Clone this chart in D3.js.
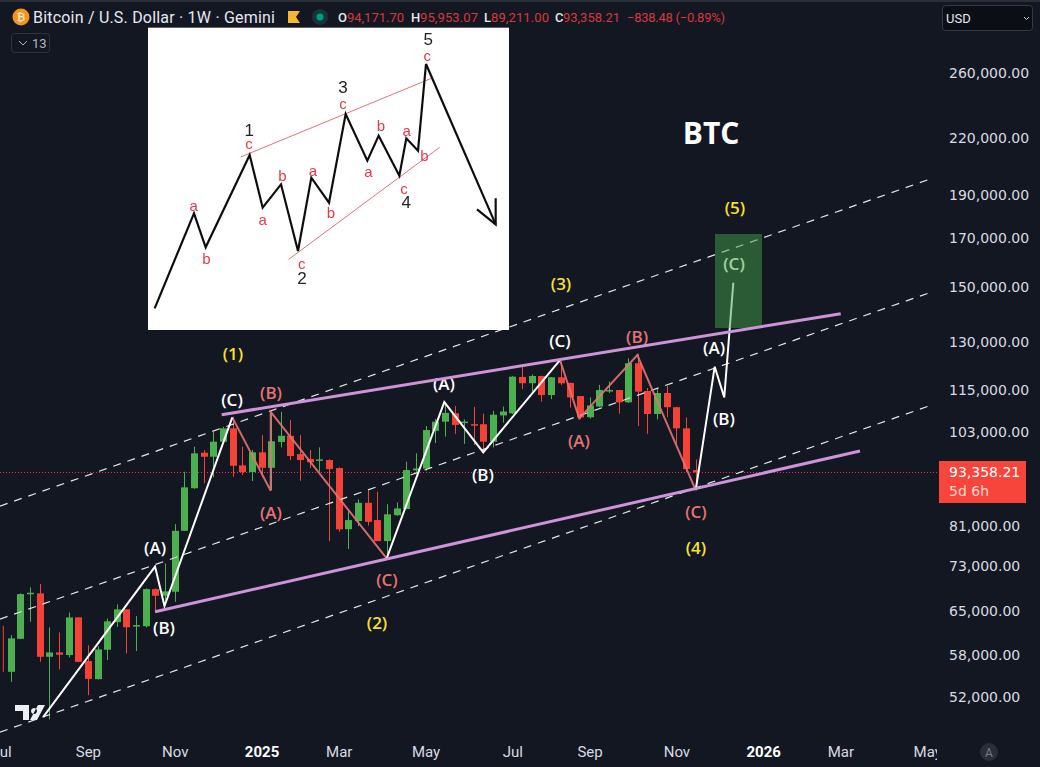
<!DOCTYPE html>
<html>
<head>
<meta charset="utf-8">
<script src="https://cdn.jsdelivr.net/npm/d3@7/dist/d3.min.js"></script>
<style>
  html, body { margin: 0; padding: 0; background: #131722; overflow: hidden; }
  svg { display: block; }
</style>
</head>
<body>
<svg id="chart"></svg>
<script>
// weekly bars, first one is the week of 2024-07-08
const opens = [
  55490, 60420, 67810, 67930, 57680, 58340, 57940, 63850, 57040, 54450,
  58740, 63080, 65190, 62410, 62410, 68690, 67520, 68220, 79830, 89100,
  97640, 96630, 100460, 103970, 94500, 92880, 97740, 93920, 100400, 102000,
  97300, 96060, 95740, 95810, 93850, 80170, 81850, 85810, 82070, 77740,
  83100, 84440, 93300, 93700, 103300, 105770, 108100, 105600, 105100, 105100,
  100460, 107500, 108100, 118700, 116800, 119000, 113300, 118600, 116900, 113000,
  107000, 110000, 114400, 114770, 111200, 123000, 114500, 107900, 113900, 109800,
  103970, 93370
];
const highs = [
  61000, 67930, 68990, 69590, 62220, 61420, 64660, 63900, 59430, 59290,
  63690, 66030, 65190, 64060, 68800, 68800, 73370, 81220, 92950, 99160,
  98320, 103060, 104400, 107150, 99160, 98320, 102180, 108500, 108500, 106230,
  102180, 98320, 99000, 96000, 94000, 84220, 86570, 88680, 88300, 85500,
  85900, 95400, 97490, 104600, 106500, 111200, 110100, 106400, 109900, 108000,
  108800, 110000, 119000, 122700, 119500, 119100, 118700, 123400, 117000, 113000,
  112600, 116300, 117300, 114800, 124600, 126000, 115400, 115000, 116000, 109900,
  106950, 95950
];
const lows = [
  54070, 60380, 63130, 56940, 49080, 55830, 57600, 56900, 52250, 54400,
  57190, 62310, 58180, 58530, 62220, 64780, 66480, 66480, 79830, 88950,
  90220, 91640, 100200, 91770, 92170, 90760, 91640, 88680, 99000, 95810,
  90820, 93850, 92970, 77740, 79640, 76150, 80810, 80900, 77740, 74400,
  83000, 84400, 92970, 93200, 100130, 101800, 102500, 99900, 99600, 97700,
  99000, 105500, 107900, 115050, 114300, 111400, 112100, 116300, 109700, 106450,
  106600, 109800, 113900, 108000, 111000, 104600, 102500, 106400, 107000, 99600,
  92880, 88680
];
const closes = [
  60490, 67810, 68040, 57680, 58340, 57990, 63850, 56940, 54490, 58790,
  63200, 65190, 62250, 62600, 68690, 67520, 68290, 79830, 89300, 97490,
  96630, 100460, 103970, 94410, 92880, 97740, 93920, 100560, 102000, 96810,
  95810, 95260, 95980, 93600, 80130, 82070, 85810, 81700, 77740, 83300,
  84580, 93370, 93760, 103520, 105770, 108200, 104900, 105800, 104900, 100460,
  107700, 108600, 118800, 116800, 119000, 113300, 118600, 116800, 112600, 106950,
  110300, 114770, 114770, 111200, 123000, 114300, 107900, 113900, 109800, 103970,
  93600, 92790
];
// bar cut off by the left edge, only its wick shows: [bar, high, low]
const edgeWick = [-0.77, 62485, 55490];

const priceTicks = [260000, 220000, 190000, 170000, 150000, 130000, 115000, 103000, 81000, 73000, 65000, 58000, 52000];
const timeBars = [-1, 8, 17, 26, 34, 43, 52, 60, 69, 78, 86, 95];
const timeLabels = ['Jul', 'Sep', 'Nov', '2025', 'Mar', 'May', 'Jul', 'Sep', 'Nov', '2026', 'Mar', 'May'];
const lastPriceLabel = '93,358.21';
const countdownLabel = '5d 6h';

// drawings as [bar, price]
const dashedChannels = [
  [[-1.11, 85090], [95.6, 198300]],
  [[-1.11, 63575], [95.6, 147980]],
  [[-1.11, 47500], [95.6, 110560]]
];
const purpleLines = [
  [[21.87, 107690], [86.03, 139740]],
  [[14.96, 64785], [88.03, 98066]]
];
const whiteWaves = [
  [[3.38, 49410], [14.96, 72790], [15.94, 65745], [22.97, 106970]],
  [[38.97, 74350], [44.94, 111270], [48.98, 97740], [56.93, 124010]],
  [[71, 88680], [72.97, 121890], [73.96, 112630], [74.9, 151370]]
];
const pinkWaves = [
  [[22.97, 106970], [26.95, 88520], [26.95, 108520], [38.97, 74350]],
  [[56.93, 124010], [58.93, 106690], [64.95, 125620], [71, 88680]]
];
const targetBox = [[73.0, 171650], [77.87, 134680]];

const whiteLabels = [
  ['(A)', 14.96, 76550], ['(B)', 15.89, 62280], ['(C)', 22.94, 112140],
  ['(A)', 44.91, 116860], ['(B)', 48.95, 92410], ['(C)', 56.93, 130580],
  ['(A)', 72.9, 128240], ['(B)', 73.93, 106770], ['(C)', 74.97, 159270]
];
const pinkLabels = [
  ['(B)', 26.98, 114180], ['(A)', 26.98, 83790], ['(C)', 39.0, 70490],
  ['(A)', 58.9, 100890], ['(B)', 64.92, 131930], ['(C)', 71.03, 84000]
];
const yellowLabels = [
  ['(1)', 23.04, 126270], ['(2)', 37.97, 63085], ['(3)', 57.04, 151255],
  ['(4)', 71.03, 76550], ['(5)', 75.07, 184020]
];

// pasted Elliott wave picture, in its own pixel units
const insetWave = [[20, 850], [138, 565], [173, 667], [305, 390], [344, 548], [399, 478], [450, 678], [490, 458], [543, 533], [593, 267], [658, 407], [692, 332], [754, 452], [775, 340], [810, 377], [834, 117], [1043, 598]];
const insetArrow = [[987, 553], [1043, 598], [1043, 520]];
const insetChannels = [[[278, 396], [850, 160]], [[422, 703], [875, 367]]];
const insetNumbers = [['1', 304, 315], ['2', 462, 760], ['3', 585, 187], ['4', 775, 532], ['5', 841, 42]];
const insetLetters = [['c', 303, 355], ['a', 137, 540], ['b', 175, 700], ['a', 344, 583], ['b', 403, 450], ['a', 495, 436], ['b', 549, 562], ['c', 461, 716], ['c', 585, 235], ['a', 661, 438], ['b', 699, 300], ['a', 776, 315], ['b', 829, 392], ['c', 768, 490], ['c', 838, 90]];

const legendValues = [
  ['O', '94,171.70', 338, 347, 57], ['H', '95,953.07', 411, 420, 58],
  ['L', '89,211.00', 484, 491, 58], ['C', '93,358.21', 555, 563, 57]
];

const width = 1040;
const height = 767;
const plotRight = 937;
const lastClose = closes[closes.length - 1];

const UP = '#4caf50';
const DOWN = '#f44336';
const UI_FONT = 'Roboto, sans-serif';

const svg = d3.select('#chart').attr('width', width).attr('height', height);
svg.append('rect').attr('width', width).attr('height', height).attr('fill', '#131722');
svg.append('rect').attr('width', width).attr('height', 2).attr('fill', '#2a2e39');

svg.append('clipPath').attr('id', 'plot-clip')
  .append('rect').attr('width', plotRight).attr('height', height);

const defs = svg.append('defs');
defs.append('filter').attr('id', 'soft')
  .append('feGaussianBlur').attr('stdDeviation', 0.35);

const x = d3.scaleLinear().domain([0, 71]).range([10.7, 695.7]);
const y = d3.scaleLog().domain([260000, 52000]).range([73, 697]);
const linePath = d3.line().x(d => x(d[0])).y(d => y(d[1]));

const plot = svg.append('g').attr('clip-path', 'url(#plot-clip)');

// Last price line
plot.append('line')
  .attr('x1', 0).attr('x2', plotRight)
  .attr('y1', y(lastClose)).attr('y2', y(lastClose))
  .attr('stroke', '#f23645').attr('stroke-dasharray', '1 2');

// Candles
plot.append('line')
  .attr('x1', x(edgeWick[0])).attr('x2', x(edgeWick[0]))
  .attr('y1', y(edgeWick[1])).attr('y2', y(edgeWick[2]))
  .attr('stroke', DOWN);

const candles = plot.selectAll('.candle')
  .data(opens.map((o, i) => ({ i, o, h: highs[i], l: lows[i], c: closes[i] })))
  .enter().append('g').attr('class', 'candle');

candles.append('line')
  .attr('x1', d => Math.round(x(d.i)) + 0.5).attr('x2', d => Math.round(x(d.i)) + 0.5)
  .attr('y1', d => y(d.h)).attr('y2', d => y(d.l))
  .attr('stroke', d => d.c >= d.o ? UP : DOWN);

candles.append('rect')
  .attr('x', d => Math.round(x(d.i)) - 3)
  .attr('width', 7)
  .attr('y', d => y(Math.max(d.o, d.c)))
  .attr('height', d => Math.max(1.5, Math.abs(y(d.o) - y(d.c))))
  .attr('fill', d => d.c >= d.o ? UP : DOWN);

// Channels and waves
plot.selectAll('.dashed').data(dashedChannels).enter().append('path')
  .attr('class', 'dashed').attr('d', linePath).attr('fill', 'none')
  .attr('stroke', '#e6e6e6').attr('stroke-width', 1.2).attr('stroke-dasharray', '8 7');

plot.selectAll('.pink-wave').data(pinkWaves).enter().append('path')
  .attr('class', 'pink-wave').attr('d', linePath).attr('fill', 'none')
  .attr('stroke', '#e57373').attr('stroke-opacity', 0.9).attr('stroke-width', 2);

plot.selectAll('.white-wave').data(whiteWaves).enter().append('path')
  .attr('class', 'white-wave').attr('d', linePath).attr('fill', 'none')
  .attr('stroke', '#ffffff').attr('stroke-width', 2);

function waveLabels(data, color) {
  plot.selectAll(null).data(data).enter().append('text')
    .attr('x', d => x(d[1])).attr('y', d => y(d[2]))
    .attr('text-anchor', 'middle').attr('dominant-baseline', 'central')
    .attr('font-family', '"Open Sans", sans-serif').attr('font-weight', 600).attr('font-size', 17)
    .attr('fill', color).text(d => d[0]);
}
waveLabels(whiteLabels, '#ffffff');
waveLabels(pinkLabels, '#e57373');
waveLabels(yellowLabels, '#f5e12f');

// Target box sits over the wave and dims it
plot.append('rect')
  .attr('x', x(targetBox[0][0])).attr('y', y(targetBox[0][1]))
  .attr('width', x(targetBox[1][0]) - x(targetBox[0][0]))
  .attr('height', y(targetBox[1][1]) - y(targetBox[0][1]))
  .attr('fill', '#43a047').attr('fill-opacity', 0.5);

plot.selectAll('.purple').data(purpleLines).enter().append('path')
  .attr('class', 'purple').attr('d', linePath).attr('fill', 'none')
  .attr('stroke', '#ce93d8').attr('stroke-width', 3);

plot.append('text')
  .attr('x', x(72.6)).attr('y', y(223290))
  .attr('text-anchor', 'middle').attr('dominant-baseline', 'central')
  .attr('font-family', '"Open Sans", sans-serif').attr('font-weight', 700).attr('font-size', 30)
  .attr('fill', '#ffffff').text('BTC');

// TradingView logo
svg.append('path')
  .attr('d', 'M15 705h14v15h-6v-9h-8z M34 708a3 3 0 1 0 .01 0 M38 705h7l-8 15h-7z')
  .attr('fill', '#eceff3');

// Inset picture
const insetX = d3.scaleLinear().domain([0, 1086]).range([148, 510]);
const insetY = d3.scaleLinear().domain([0, 915]).range([25, 330]);
const insetPath = d3.line().x(d => insetX(d[0])).y(d => insetY(d[1]));

svg.append('rect')
  .attr('x', insetX(0)).attr('y', insetY(8))
  .attr('width', insetX(1083) - insetX(0)).attr('height', insetY(915) - insetY(8))
  .attr('fill', '#ffffff');

const inset = svg.append('g').attr('filter', 'url(#soft)');

inset.selectAll('.inset-channel').data(insetChannels).enter().append('path')
  .attr('class', 'inset-channel').attr('d', insetPath).attr('fill', 'none')
  .attr('stroke', '#e8707a').attr('stroke-width', 1);

[insetWave, insetArrow].forEach(points => {
  inset.append('path').attr('d', insetPath(points)).attr('fill', 'none')
    .attr('stroke', '#111111').attr('stroke-width', 2.2);
});

inset.selectAll('.inset-number').data(insetNumbers).enter().append('text')
  .attr('class', 'inset-number')
  .attr('x', d => insetX(d[1])).attr('y', d => insetY(d[2]))
  .attr('text-anchor', 'middle').attr('dominant-baseline', 'central')
  .attr('font-family', '"Liberation Sans", sans-serif').attr('font-size', 17)
  .attr('fill', '#222222').text(d => d[0]);

inset.selectAll('.inset-letter').data(insetLetters).enter().append('text')
  .attr('class', 'inset-letter')
  .attr('x', d => insetX(d[1])).attr('y', d => insetY(d[2]))
  .attr('text-anchor', 'middle').attr('dominant-baseline', 'central')
  .attr('font-family', '"Liberation Sans", sans-serif').attr('font-size', 15)
  .attr('fill', '#e8394a').text(d => d[0]);

// Price axis
const priceAxis = svg.append('g')
  .attr('transform', 'translate(949,0.5)')
  .call(d3.axisRight(y).tickValues(priceTicks).tickFormat(d3.format(',.2f')).tickSize(0).tickPadding(0));
priceAxis.select('.domain').remove();
priceAxis.selectAll('text')
  .attr('fill', '#d9dbe2').attr('font-family', '"DejaVu Sans", sans-serif').attr('font-size', 14);

// Last price tag
svg.append('rect').attr('x', 939).attr('y', 461).attr('width', 87).attr('height', 42).attr('fill', '#f7453b');
svg.append('text').attr('x', 949).attr('y', 477)
  .attr('font-family', '"DejaVu Sans", sans-serif').attr('font-size', 14)
  .attr('fill', '#ffffff').text(lastPriceLabel);
svg.append('text').attr('x', 949).attr('y', 496)
  .attr('font-family', '"DejaVu Sans", sans-serif').attr('font-size', 14)
  .attr('fill', '#fcd4d0').text(countdownLabel);

// Time axis
const timeAxis = svg.append('g')
  .attr('clip-path', 'url(#plot-clip)')
  .append('g').attr('transform', 'translate(0,746)')
  .call(d3.axisBottom(x).tickValues(timeBars).tickFormat((d, i) => timeLabels[i]).tickSize(0).tickPadding(0));
timeAxis.select('.domain').remove();
timeAxis.selectAll('text')
  .attr('font-family', UI_FONT).attr('font-size', 15)
  .attr('font-weight', (d, i) => /^\d+$/.test(timeLabels[i]) ? 700 : 400)
  .attr('fill', (d, i) => /^\d+$/.test(timeLabels[i]) ? '#ffffff' : '#d9dbe2');

svg.append('circle').attr('cx', 989).attr('cy', 752).attr('r', 9).attr('fill', '#2a2e39');
svg.append('text').attr('x', 989).attr('y', 756.5).attr('text-anchor', 'middle')
  .attr('font-family', UI_FONT).attr('font-size', 12).attr('fill', '#787b86').text('A');

// Header legend
const header = svg.append('g');
header.append('circle').attr('cx', 21).attr('cy', 17).attr('r', 8.5).attr('fill', '#f7931a');
header.append('text').attr('x', 21).attr('y', 21).attr('text-anchor', 'middle')
  .attr('font-family', UI_FONT).attr('font-weight', 700).attr('font-size', 11).attr('fill', '#fde2bf').text('₿');
header.append('text').attr('x', 33).attr('y', 22.5)
  .attr('font-family', UI_FONT).attr('font-size', 16).attr('fill', '#e6e8ee')
  .attr('textLength', 242).attr('lengthAdjust', 'spacing')
  .text('Bitcoin / U.S. Dollar · 1W · Gemini');

header.append('path').attr('d', 'M288 11h12l-4 6 4 6h-12z').attr('fill', '#f5b82e');
header.append('circle').attr('cx', 320).attr('cy', 17).attr('r', 8).attr('fill', '#17343a');
header.append('circle').attr('cx', 320).attr('cy', 17).attr('r', 3.5).attr('fill', '#089981');

legendValues.forEach(d => {
  header.append('text').attr('x', d[2]).attr('y', 22)
    .attr('font-family', UI_FONT).attr('font-weight', 500).attr('font-size', 13).attr('fill', '#e6e8ee').text(d[0]);
  header.append('text').attr('x', d[3]).attr('y', 22)
    .attr('font-family', UI_FONT).attr('font-size', 13).attr('fill', '#d8373c')
    .attr('textLength', d[4]).attr('lengthAdjust', 'spacing').text(d[1]);
});
header.append('text').attr('x', 627).attr('y', 22)
  .attr('font-family', UI_FONT).attr('font-size', 13).attr('fill', '#d8373c')
  .attr('textLength', 98).attr('lengthAdjust', 'spacing').text('−838.48 (−0.89%)');

// Collapsed indicators button
svg.append('rect').attr('x', 11.5).attr('y', 33.5).attr('width', 38).attr('height', 19).attr('rx', 3)
  .attr('fill', 'none').attr('stroke', '#2f333e');
svg.append('path').attr('d', 'M19 41l4 4 4-4').attr('fill', 'none').attr('stroke', '#b2b5be');
svg.append('text').attr('x', 32).attr('y', 48)
  .attr('font-family', UI_FONT).attr('font-size', 13).attr('fill', '#b2b5be').text('13');

// Currency selector
svg.append('rect').attr('x', 942.5).attr('y', 5.5).attr('width', 90).attr('height', 25).attr('rx', 3)
  .attr('fill', '#0c0e15').attr('stroke', '#363a45');
svg.append('text').attr('x', 946).attr('y', 22.5)
  .attr('font-family', UI_FONT).attr('font-size', 13).attr('fill', '#e6e8ee').text('USD');
svg.append('path').attr('d', 'M1024 17l2.5 2.5 2.5-2.5').attr('fill', 'none').attr('stroke', '#d1d4dc');
</script>
</body>
</html>
